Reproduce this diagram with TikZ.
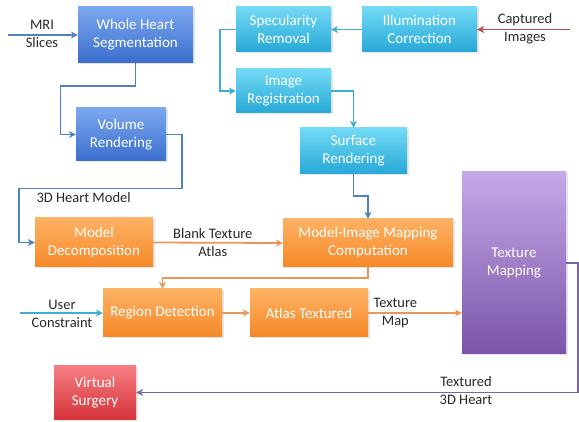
\documentclass[tikz,border=0pt]{standalone}
\usepackage{fontspec}
\setmainfont{Carlito}
\usetikzlibrary{arrows.meta}
\usetikzlibrary{shadows}
\definecolor{bluetop}{RGB}{125,168,240}
\definecolor{bluebot}{RGB}{58,110,205}
\definecolor{cyantop}{RGB}{115,218,245}
\definecolor{cyanbot}{RGB}{38,168,215}
\definecolor{orangetop}{RGB}{253,178,100}
\definecolor{orangebot}{RGB}{246,136,40}
\definecolor{purpletop}{RGB}{198,168,232}
\definecolor{purplebot}{RGB}{122,84,168}
\definecolor{redtop}{RGB}{246,125,130}
\definecolor{redbot}{RGB}{212,52,58}
\definecolor{blueline}{RGB}{80,130,195}
\definecolor{cyanline}{RGB}{60,175,210}
\definecolor{orangeline}{RGB}{232,150,90}
\definecolor{redline}{RGB}{192,72,72}
\definecolor{purpleline}{RGB}{120,100,170}
\definecolor{labeltext}{RGB}{40,40,40}

\begin{document}
\begin{tikzpicture}[x=1pt, y=-1pt,
  box/.style={inner sep=2pt, align=center, text=white, font=\fontsize{15}{18}\selectfont,
    drop shadow={opacity=0.2, shadow xshift=1.5pt, shadow yshift=-1.5pt}},
  bluebox/.style={box, top color=bluetop, bottom color=bluebot},
  cyanbox/.style={box, top color=cyantop, bottom color=cyanbot},
  orangebox/.style={box, top color=orangetop, bottom color=orangebot},
  purplebox/.style={box, top color=purpletop, bottom color=purplebot},
  redbox/.style={box, top color=redtop, bottom color=redbot},
  lbl/.style={align=center, text=labeltext, font=\fontsize{14.5}{18}\selectfont},
  link/.style={line width=1.8pt, -{Stealth[length=7pt,width=7pt]}}]

\useasboundingbox (0,0) rectangle (579,422);

% heart model branch
\node[bluebox, minimum width=115pt, minimum height=56pt] (wholeheart) at (135.5,35) {Whole Heart\\Segmentation};
\node[bluebox, minimum width=90pt, minimum height=53pt] (volume) at (121,134.5) {Volume\\Rendering};

% image branch
\node[cyanbox, minimum width=95pt, minimum height=45pt] (specular) at (283.5,29.5) {Specularity\\Removal};
\node[cyanbox, minimum width=115pt, minimum height=45pt] (illum) at (419.5,29.5) {Illumination\\Correction};
\node[cyanbox, minimum width=95pt, minimum height=44pt] (imagereg) at (283.5,91) {Image\\Registration};
\node[cyanbox, minimum width=107pt, minimum height=46pt] (surface) at (353.5,151) {Surface\\Rendering};

% atlas branch
\node[orangebox, minimum width=118pt, minimum height=49pt] (modeldec) at (94,242.5) {Model\\Decomposition};
\node[orangebox, minimum width=170pt, minimum height=48pt] (mapping) at (368,243) {Model-Image Mapping\\Computation};
\node[orangebox, minimum width=119pt, minimum height=48pt] (region) at (162.5,313) {Region Detection};
\node[orangebox, minimum width=118pt, minimum height=48pt] (atlas) at (309,313) {Atlas Textured};

% output
\node[purplebox, minimum width=104pt, minimum height=182pt] (texmap) at (514,263) {Texture\\Mapping};
\node[redbox, minimum width=82pt, minimum height=53pt] (surgery) at (95,392.5) {Virtual\\Surgery};

% inputs
\coordinate (mriin) at (8,35);
\coordinate (capin) at (570,29.5);
\coordinate (userin) at (20,313);

% blue links
\draw[link, blueline] (mriin) -- (wholeheart.west);
\node[lbl] (mrilbl) at (42,34) {MRI\\Slices};
\draw[link, blueline] (wholeheart.south) -- ++(0,23) -- ++(-75,0) |- (volume.west);
\draw[link, blueline] (volume.east) -- ++(16,0) -- ++(0,54) -- ++(-163,0) |- (modeldec.west);
\node[lbl, anchor=west] (heartlbl) at (33,198) {3D Heart Model};

% cyan links
\draw[link, redline] (capin) -- (illum.east);
\node[lbl] (caplbl) at (525,29) {Captured\\Images};
\draw[link, cyanline] (illum.west) -- (specular.east);
\draw[link, cyanline] (specular.west) -- ++(-16,0) |- (imagereg.west);
\draw[link, cyanline] (imagereg.east) -| (surface.north);
\draw[link, blueline] (surface.south) -- ++(0,22) -| (mapping.north);

% orange links
\draw[link, orangeline] (modeldec.east) -- node[lbl, pos=0.46] {Blank Texture\\Atlas} (mapping.west);
\draw[link, orangeline] (mapping.south) -- ++(0,11) -| (region.north);
\draw[link, cyanline] (userin) -- (region.west);
\node[lbl] (userlbl) at (62,314) {User\\Constraint};
\draw[link, orangeline] (region.east) -- (atlas.west);
\draw[link, orangeline] (atlas.east) -- node[lbl, pos=0.29] {Texture\\Map} (atlas.east -| texmap.west);

% purple link
\draw[link, purpleline] (texmap.east) -- ++(12,0) |- (surgery.east);
\node[lbl] (texlbl) at (466,391) {Textured\\3D Heart};

\end{tikzpicture}
\end{document}
